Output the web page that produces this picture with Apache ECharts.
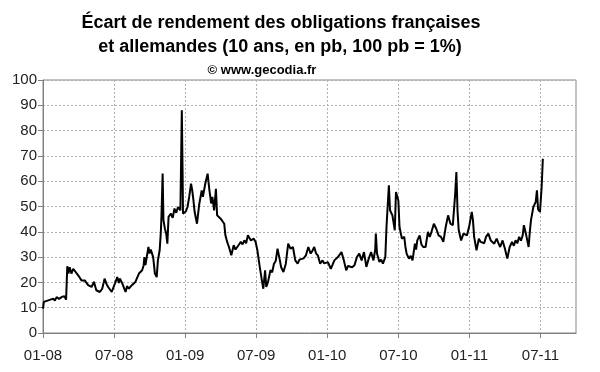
<!DOCTYPE html>
<html>
<head>
<meta charset="utf-8">
<script src="https://cdn.jsdelivr.net/npm/echarts@6/dist/echarts.min.js"></script>
<style>
html,body{margin:0;padding:0;background:#fff;}
#c{width:600px;height:372px;}
</style>
</head>
<body>
<div id="c"></div>
<script>
// x position: months since January 2008
const months = [0,0.07,0.5,0.87,1.0,1.15,1.35,1.57,1.8,1.95,2.05,2.15,2.25,2.4,2.55,2.7,2.97,3.25,3.53,3.81,4.1,4.3,4.5,4.8,5.0,5.2,5.35,5.5,5.8,6.07,6.27,6.4,6.5,6.7,6.97,7.1,7.25,7.5,7.8,8.1,8.37,8.5,8.56,8.65,8.9,9.0,9.1,9.3,9.45,9.6,9.7,9.85,9.95,10.0,10.1,10.17,10.3,10.4,10.5,10.6,10.8,10.95,11.1,11.25,11.4,11.6,11.72,11.78,11.82,11.9,12.05,12.2,12.35,12.5,12.6,12.7,12.8,13.0,13.2,13.4,13.5,13.7,13.9,14.05,14.2,14.3,14.45,14.6,14.7,14.85,15.0,15.3,15.4,15.55,15.7,15.9,16.1,16.25,16.4,16.55,16.7,16.85,17.0,17.15,17.3,17.55,17.8,17.95,18.1,18.3,18.5,18.6,18.75,18.85,19.0,19.2,19.35,19.5,19.65,19.8,20.0,20.1,20.3,20.5,20.7,20.9,21.1,21.3,21.5,21.65,21.8,22.0,22.2,22.4,22.6,22.75,22.9,23.05,23.2,23.4,23.6,23.75,23.9,24.05,24.2,24.3,24.45,24.6,24.75,24.9,25.05,25.2,25.4,25.6,25.75,25.9,26.1,26.3,26.5,26.7,26.9,27.1,27.3,27.5,27.7,27.9,28.05,28.1,28.2,28.4,28.55,28.7,28.9,29.0,29.2,29.3,29.5,29.7,29.8,30.0,30.1,30.3,30.5,30.6,30.7,30.9,31.05,31.2,31.4,31.5,31.6,31.8,31.95,32.1,32.3,32.5,32.65,32.8,33.0,33.2,33.4,33.6,33.8,34.0,34.2,34.4,34.6,34.8,34.9,35.0,35.1,35.3,35.5,35.8,36.0,36.2,36.3,36.4,36.6,36.8,36.95,37.1,37.25,37.4,37.6,37.8,38.1,38.3,38.45,38.6,38.8,39.0,39.2,39.4,39.6,39.75,39.9,40.05,40.2,40.35,40.5,40.6,40.8,41.0,41.1,41.2,41.4,41.6,41.7,41.8,41.96,42.1,42.2];
// spread in basis points
const spread = [9.6,12.3,13,13.6,12.8,14.2,13.5,14.2,14.5,13.2,26.4,23.5,26,23.5,25.4,24.8,22.8,20.8,20.8,18.9,18.2,20.2,16.9,16.2,17.5,21.5,19.5,18.2,16.2,19.5,22.1,19.8,21.5,19.5,16.2,18.5,17.5,18.9,20.2,23.5,24.8,26.8,30,26.8,34,31.4,33,30,23.5,22.1,28.7,32.7,40,45.9,63,44.6,41,39.3,35.3,45.9,47.2,45.5,49.2,47.5,49.8,48.5,88,65.6,47.2,46.5,48,49.8,54,59,56.4,52.5,47.9,43.2,51.2,56.4,53.8,59,63,56.4,51.2,53.8,48.5,57,46.5,47,45.2,43.2,38.6,36,34,30.7,34.7,33,34,35,36,35,36.6,35.5,38.6,36.6,37.3,36,32.7,26.1,20.2,17.5,24.8,18.2,20.2,24.8,24,27.4,28.5,33.3,28.7,26.1,24.1,27.4,35.3,33.3,34,28.7,27.4,29,28.7,29.5,30.7,34,31.4,32.5,34,31.5,30.7,27.4,28.7,27.5,26.8,28,28.1,25.4,27,28.7,28,30,29.5,32,28.7,24.8,26.5,26.8,26,26.8,30,31.4,28.7,32,26.1,29.4,32,28.7,33,39.3,31.4,28.1,29,27.4,30,41.9,58.4,48.5,46.5,40.6,55.7,52.5,41.9,37.3,38,34,31.4,29.4,30.5,28.7,35.3,33,36.6,38.6,35,34,34,40,38,40,43.2,41.2,38.6,38,36,41.9,46.5,43.2,42.6,55,63.6,48,40.6,36.6,39.3,38.6,42.6,47.9,44.6,38,32.7,37.3,36,36.6,35.5,38,39.3,36.6,35.3,37.3,35.5,34,36.6,33.3,29.4,34,36,34.5,36.6,35.5,38,36.5,38.6,42.6,38.6,34,40,44.6,49.8,51.8,56.4,48.9,47.9,57.7,68.9];
const tickMonths = [0,6,12,18,24,30,36,42];
const tickLabels = ['01-08','07-08','01-09','07-09','01-10','07-10','01-11','07-11'];
const titleLines = ['Écart de rendement des obligations françaises','et allemandes (10 ans, en pb, 100 pb = 1%)','© www.gecodia.fr'];

const chart = echarts.init(document.getElementById('c'), null, {renderer:'canvas'});
const data = months.map((m,i)=>[m, spread[i]]);
const font = '"Liberation Sans", Arial, sans-serif';
chart.setOption({
  animation:false,
  backgroundColor:'#fff',
  graphic:[
    {type:'text', x:281, y:23, style:{text:titleLines[0], fill:'#000', font:'bold 18px '+font, align:'center', verticalAlign:'middle'}},
    {type:'text', x:280, y:47, style:{text:titleLines[1], fill:'#000', font:'bold 18px '+font, align:'center', verticalAlign:'middle'}},
    {type:'text', x:262, y:70, style:{text:titleLines[2], fill:'#000', font:'bold 13px '+font, align:'center', verticalAlign:'middle'}}
  ],
  grid:{left:43, right:24, top:80, bottom:39, show:true, borderColor:'#888', borderWidth:1, backgroundColor:'transparent'},
  xAxis:{
    type:'value', min:0, max:45, interval:3,
    axisLine:{show:true, onZero:false, lineStyle:{color:'#808080', width:1}},
    axisTick:{show:true, length:5, customValues:tickMonths, lineStyle:{color:'#808080'}},
    axisLabel:{customValues:tickMonths, margin:15, color:'#222', fontFamily:font, fontSize:15,
      formatter:(v)=>{const i=tickMonths.indexOf(Math.round(v)); return i>=0?tickLabels[i]:'';}},
    splitLine:{show:true, lineStyle:{color:'#b0b0b0', type:[2,2], width:1}}
  },
  yAxis:{
    type:'value', min:0, max:100, interval:10,
    axisLine:{show:true, lineStyle:{color:'#808080', width:1}},
    axisTick:{show:true, length:5, lineStyle:{color:'#808080'}},
    axisLabel:{margin:6, color:'#222', fontFamily:font, fontSize:15},
    splitLine:{show:true, lineStyle:{color:'#b0b0b0', type:[2,2], width:1}}
  },
  series:[{
    type:'line', data:data, showSymbol:false, symbol:'none',
    lineStyle:{color:'#000', width:2}, z:5
  }]
});
</script>
</body>
</html>
